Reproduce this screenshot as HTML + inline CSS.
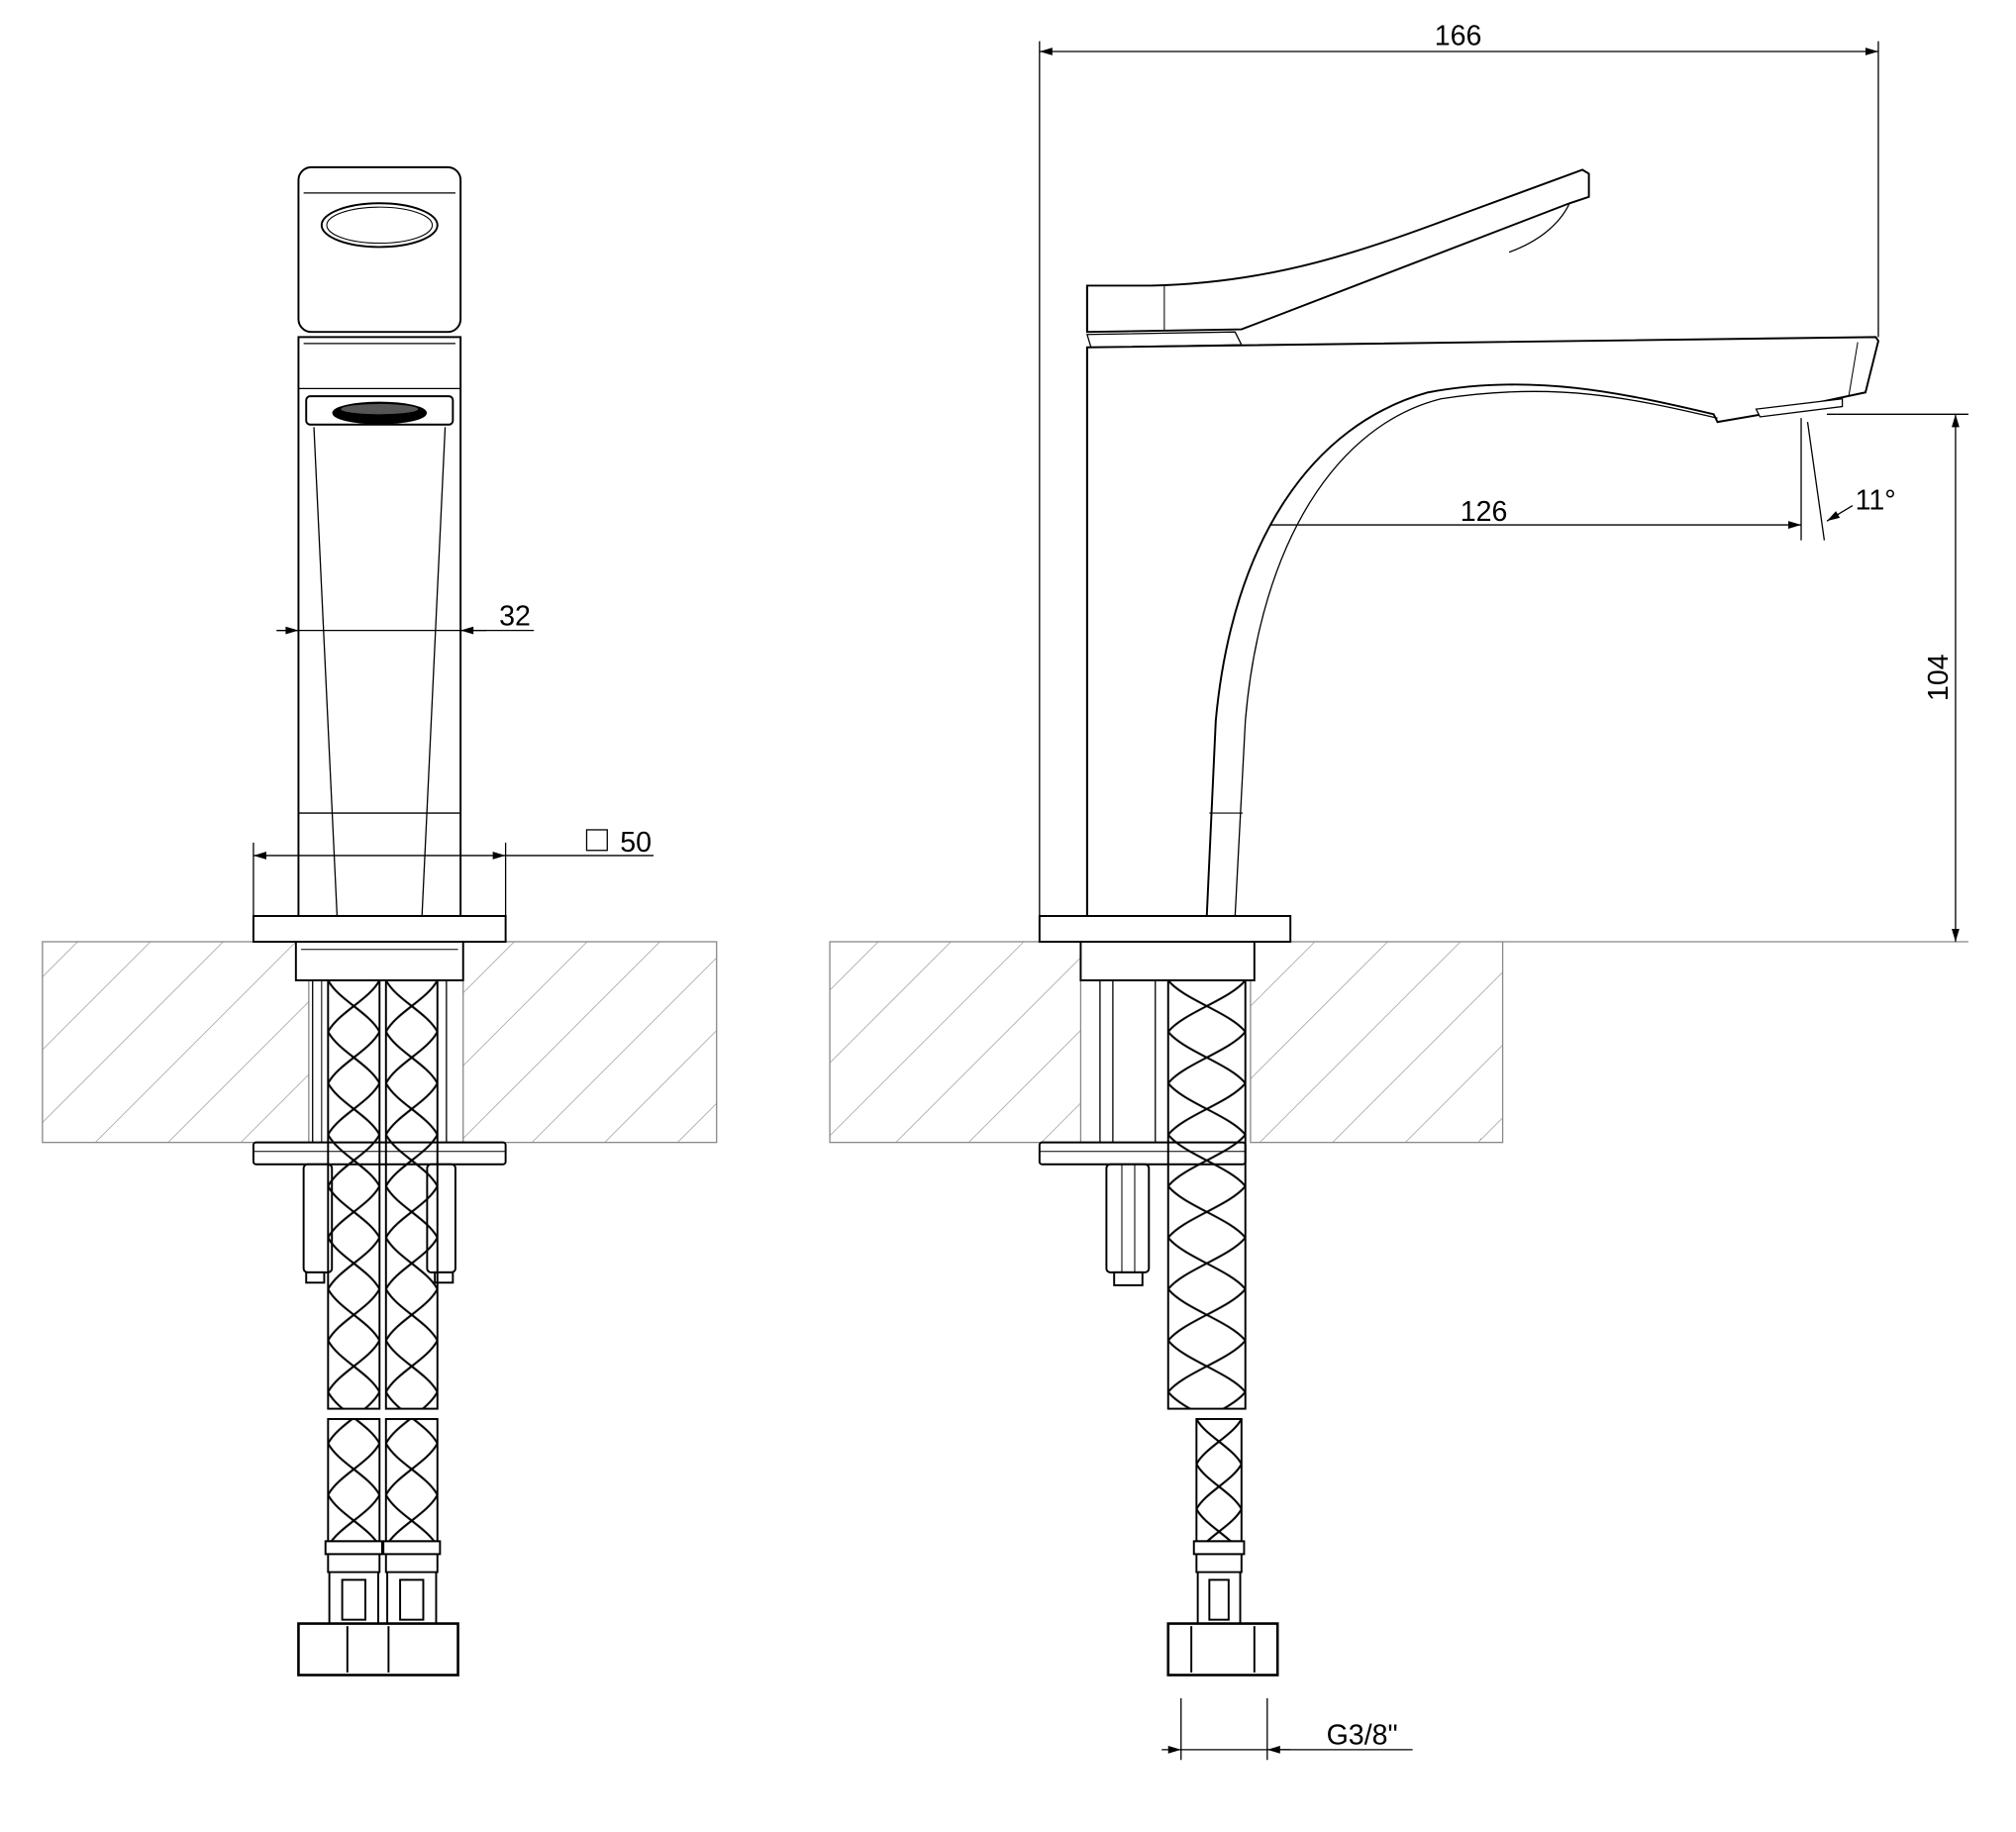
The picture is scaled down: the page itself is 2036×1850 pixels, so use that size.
<!DOCTYPE html>
<html><head><meta charset="utf-8"><style>
html,body{margin:0;padding:0;background:#fff;}
svg{display:block}
text{font-family:"Liberation Sans",sans-serif;fill:#000}
</style></head><body>
<svg width="2036" height="1850" viewBox="0 0 1567 1424" preserveAspectRatio="none" xmlns="http://www.w3.org/2000/svg">
<defs>
<pattern id="hatch" patternUnits="userSpaceOnUse" width="40" height="40" patternTransform="rotate(45)">
<line x1="0" y1="0" x2="0" y2="40" stroke="#888" stroke-width="1"/>
</pattern>
<pattern id="braidA" patternUnits="userSpaceOnUse" x="255" y="762" width="40" height="80">
<path d="M0,0 C8,15 32,25 40,40 C32,55 8,65 0,80 M40,0 C32,15 8,25 0,40 C8,55 32,65 40,80" fill="none" stroke="#000" stroke-width="1.6"/>
</pattern>
<pattern id="braidB" patternUnits="userSpaceOnUse" x="300" y="762" width="40" height="80">
<path d="M0,0 C8,15 32,25 40,40 C32,55 8,65 0,80 M40,0 C32,15 8,25 0,40 C8,55 32,65 40,80" fill="none" stroke="#000" stroke-width="1.6"/>
</pattern>
<pattern id="braidC" patternUnits="userSpaceOnUse" x="908" y="762" width="60" height="80">
<path d="M0,0 C12,15 48,25 60,40 C48,55 12,65 0,80 M60,0 C48,15 12,25 0,40 C12,55 48,65 60,80" fill="none" stroke="#000" stroke-width="1.6"/>
</pattern>
<pattern id="braidD" patternUnits="userSpaceOnUse" x="930" y="1103" width="35" height="70">
<path d="M0,0 C7,13 28,22 35,35 C28,48 7,57 0,70 M35,0 C28,13 7,22 0,35 C7,48 28,57 35,70" fill="none" stroke="#000" stroke-width="1.6"/>
</pattern>
<marker id="ar" viewBox="0 0 10 6" refX="10" refY="3" markerWidth="16" markerHeight="6" markerUnits="userSpaceOnUse" orient="auto-start-reverse">
<path d="M0,0 L10,3 L0,6 Z" fill="#000"/>
</marker>
</defs>

<g fill="none" stroke="#000" stroke-width="1.5">
<rect x="232" y="130" width="126" height="128" rx="10"/>
<line x1="236" y1="150" x2="354" y2="150" stroke-width="1"/>
<ellipse cx="295" cy="175" rx="45" ry="17"/>
<ellipse cx="295" cy="175" rx="41" ry="14" stroke-width="0.8"/>
<rect x="232" y="262" width="126" height="450"/>
<line x1="236" y1="267" x2="354" y2="267" stroke-width="1"/>
<line x1="232" y1="302" x2="358" y2="302" stroke-width="1"/>
<rect x="238" y="308" width="114" height="22" rx="3"/>
<ellipse cx="295" cy="321" rx="36" ry="8" fill="#000"/>
<ellipse cx="295" cy="318" rx="30" ry="4" fill="#555" stroke="none"/>
<line x1="244" y1="332" x2="262" y2="712" stroke-width="1"/>
<line x1="346" y1="332" x2="328" y2="712" stroke-width="1"/>
<line x1="232" y1="632" x2="358" y2="632" stroke-width="1"/>

<g stroke="#888" stroke-width="1">
<rect x="33" y="732" width="207" height="156" fill="url(#hatch)"/>
<rect x="360" y="732" width="197" height="156" fill="url(#hatch)"/>
<rect x="645" y="732" width="195" height="156" fill="url(#hatch)"/>
<rect x="972" y="732" width="196" height="156" fill="url(#hatch)"/>
<line x1="1168" y1="732" x2="1530" y2="732"/>
</g>

<rect x="197" y="712" width="196" height="20" fill="#fff"/>
<rect x="230" y="732" width="130" height="30" fill="#fff"/>
<line x1="234" y1="738" x2="356" y2="738" stroke-width="0.8"/>
<line x1="243" y1="762" x2="243" y2="888" stroke-width="1"/>
<line x1="347" y1="762" x2="347" y2="888" stroke-width="1"/>
<line x1="250" y1="762" x2="250" y2="888" stroke-width="0.8"/>
<line x1="340" y1="762" x2="340" y2="888" stroke-width="0.8"/>

<rect x="197" y="888" width="196" height="17" rx="2" fill="#fff"/>
<line x1="197" y1="895" x2="393" y2="895" stroke-width="0.8"/>
<rect x="236" y="905" width="22" height="84" rx="3" fill="#fff"/>
<rect x="238" y="989" width="14" height="8" fill="#fff"/>
<rect x="332" y="905" width="22" height="84" rx="3" fill="#fff"/>
<rect x="338" y="989" width="14" height="8" fill="#fff"/>

<rect x="255" y="762" width="40" height="333" fill="url(#braidA)"/>
<rect x="300" y="762" width="40" height="333" fill="url(#braidB)"/>
<rect x="255" y="1103" width="40" height="95" fill="url(#braidA)"/>
<rect x="300" y="1103" width="40" height="95" fill="url(#braidB)"/>
<path d="M253,1198 h44 v10 h-44 z M255,1208 h40 v14 h-40 z M256,1222 h38 v40 h-38 z" fill="#fff"/>
<rect x="266" y="1228" width="18" height="31"/>
<path d="M298,1198 h44 v10 h-44 z M300,1208 h40 v14 h-40 z M301,1222 h38 v40 h-38 z" fill="#fff"/>
<rect x="311" y="1228" width="18" height="31"/>
<rect x="232" y="1262" width="124" height="40" stroke-width="2" fill="#fff"/>
<line x1="270" y1="1264" x2="270" y2="1300"/>
<line x1="302" y1="1264" x2="302" y2="1300"/>

<g stroke-width="1">
<line x1="215" y1="490" x2="232" y2="490" marker-end="url(#ar)"/>
<line x1="215" y1="490" x2="358" y2="490"/>
<line x1="378" y1="490" x2="358" y2="490" marker-end="url(#ar)"/>
<line x1="358" y1="490" x2="415" y2="490"/>
<line x1="197" y1="655" x2="197" y2="712"/>
<line x1="393" y1="655" x2="393" y2="712"/>
<line x1="197" y1="665" x2="393" y2="665" marker-start="url(#ar)" marker-end="url(#ar)"/>
<line x1="393" y1="665" x2="508" y2="665"/>
<rect x="456" y="645" width="16" height="16"/>
</g>

<g stroke-width="1">
<line x1="808" y1="32" x2="808" y2="712"/>
<line x1="1460" y1="32" x2="1460" y2="262"/>
<line x1="808" y1="40" x2="1460" y2="40" marker-start="url(#ar)" marker-end="url(#ar)"/>
<line x1="905" y1="408" x2="1400" y2="408" marker-start="url(#ar)" marker-end="url(#ar)"/>
<line x1="905" y1="290" x2="905" y2="712"/>
<line x1="1400" y1="325" x2="1400" y2="420"/>
<line x1="1405" y1="328" x2="1418" y2="420"/>
<line x1="1440" y1="393" x2="1420" y2="405" marker-end="url(#ar)"/>
<line x1="1420" y1="322" x2="1530" y2="322"/>
<line x1="1520" y1="322" x2="1520" y2="732" marker-start="url(#ar)" marker-end="url(#ar)"/>
<line x1="918" y1="1320" x2="918" y2="1368"/>
<line x1="985" y1="1320" x2="985" y2="1368"/>
<line x1="903" y1="1360" x2="918" y2="1360" marker-end="url(#ar)"/>
<line x1="1003" y1="1360" x2="985" y2="1360" marker-end="url(#ar)"/>
<line x1="918" y1="1360" x2="1098" y2="1360"/>
</g>

<path d="M845,222 L895,222 C990,220 1060,195 1140,165 L1230,132 L1235,135 L1235,153 L1220,158 L965,256 L845,258 Z" fill="#fff"/>
<line x1="845" y1="222" x2="845" y2="258"/>
<line x1="905" y1="222" x2="905" y2="257" stroke-width="0.8"/>
<path d="M1173,196 C1195,188 1212,175 1220,158" stroke-width="1"/>
<path d="M845,260 L960,258 L965,268 L848,270 Z" fill="#fff" stroke-width="1"/>
<path d="M845,270 L1458,262 L1460,265 L1450,305 L1370,322 L1335,328 L1332,322 C1260,305 1190,290 1110,305 C1020,330 958,420 945,560 L938,712 L845,712 Z" fill="#fff"/>
<path d="M1335,325 C1270,310 1210,296 1120,310 C1040,330 980,420 968,560 L960,712" stroke-width="1"/>
<line x1="845" y1="270" x2="845" y2="712"/>
<line x1="1444" y1="266" x2="1437" y2="308" stroke-width="0.8"/>
<path d="M1365,318 L1432,310 L1432,316 L1368,324 Z" stroke-width="1" fill="#fff"/>
<line x1="940" y1="632" x2="966" y2="632" stroke-width="0.8"/>

<rect x="808" y="712" width="195" height="20" fill="#fff"/>
<rect x="840" y="732" width="135" height="30" fill="#fff"/>
<line x1="855" y1="762" x2="855" y2="888" stroke-width="1"/>
<line x1="865" y1="762" x2="865" y2="888" stroke-width="1"/>
<line x1="898" y1="762" x2="898" y2="888" stroke-width="1"/>
<rect x="808" y="888" width="160" height="17" rx="2" fill="#fff"/>
<line x1="808" y1="895" x2="968" y2="895" stroke-width="0.8"/>
<rect x="860" y="905" width="33" height="84" rx="3" fill="#fff"/>
<line x1="872" y1="905" x2="872" y2="989" stroke-width="0.8"/>
<line x1="882" y1="905" x2="882" y2="989" stroke-width="0.8"/>
<rect x="866" y="989" width="22" height="10" fill="#fff"/>
<rect x="908" y="762" width="60" height="333" fill="url(#braidC)"/>
<rect x="930" y="1103" width="35" height="95" fill="url(#braidD)"/>
<path d="M928,1198 h39 v10 h-39 z M930,1208 h35 v14 h-35 z M931,1222 h33 v40 h-33 z" fill="#fff"/>
<rect x="940" y="1228" width="15" height="31"/>
<rect x="908" y="1262" width="85" height="40" stroke-width="2" fill="#fff"/>
<line x1="926" y1="1264" x2="926" y2="1300"/>
<line x1="975" y1="1264" x2="975" y2="1300"/>
</g>

<g font-size="22">
<text x="388" y="486">32</text>
<text x="482" y="662">50</text>
<text x="1115" y="35">166</text>
<text x="1135" y="405">126</text>
<text x="1442" y="396">11°</text>
<text x="1031" y="1356">G3/8"</text>
<text x="0" y="0" transform="translate(1514,545) rotate(-90)">104</text>
</g>
</svg>
</body></html>
